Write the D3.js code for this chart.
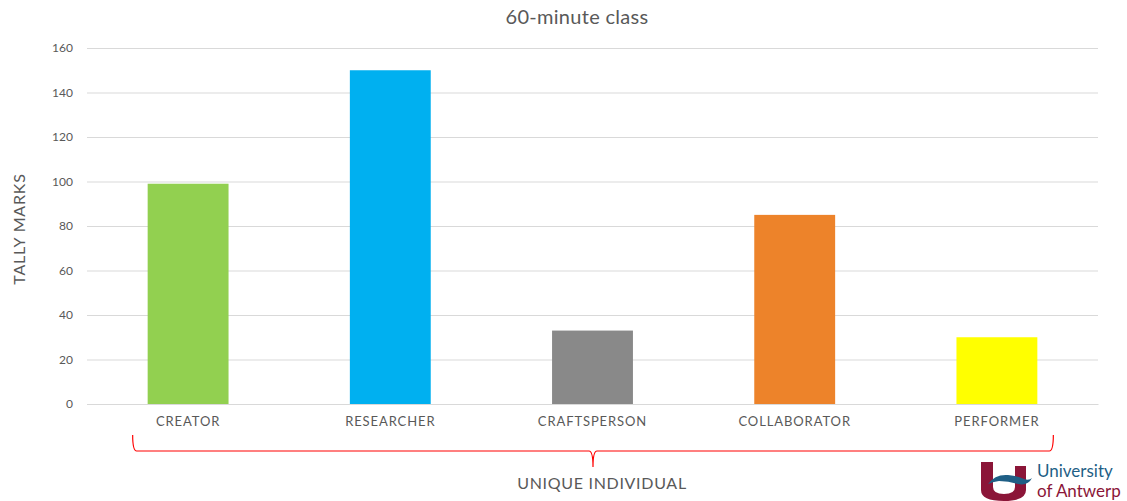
<!DOCTYPE html>
<html>
<head>
<meta charset="utf-8">
<script src="https://cdn.jsdelivr.net/npm/d3@7"></script>
<style>
  body { margin: 0; background: #fff; }
  text { font-family: "Lato", "Open Sans", sans-serif; }
</style>
</head>
<body>
<div class="canvas"></div>
<script>
const categories = ['CREATOR', 'RESEARCHER', 'CRAFTSPERSON', 'COLLABORATOR', 'PERFORMER'];
const tallyValues = [99, 150, 33, 85, 30];
const barColors = ['#92D050', '#00B0F0', '#898989', '#ED832A', '#FFFF00'];
const yTicks = [0, 20, 40, 60, 80, 100, 120, 140, 160];

const width = 1127, height = 501;
const margin = { top: 48, right: 29, bottom: 97, left: 87 };
const graphWidth = width - margin.left - margin.right;
const graphHeight = height - margin.top - margin.bottom;

const svg = d3.select('.canvas')
  .append('svg')
  .attr('width', width)
  .attr('height', height);

const graph = svg.append('g')
  .attr('transform', `translate(${margin.left}, ${margin.top})`);

const xScale = d3.scaleBand()
  .domain(categories)
  .range([0, graphWidth])
  .paddingInner(0.6)
  .paddingOuter(0.3);

const yScale = d3.scaleLinear()
  .domain([0, 160])
  .range([graphHeight, 0]);

// gridlines + y tick labels
const yAxis = graph.append('g')
  .call(d3.axisLeft(yScale).tickValues(yTicks).tickSize(-graphWidth).tickPadding(14));
yAxis.select('.domain').remove();
yAxis.selectAll('.tick line').attr('stroke', '#d9d9d9');
yAxis.selectAll('.tick text')
  .attr('fill', '#595959')
  .style('font-size', '12px');

// bars
graph.selectAll('rect.bar')
  .data(tallyValues)
  .enter()
  .append('rect')
  .attr('class', 'bar')
  .attr('x', (d, i) => xScale(categories[i]))
  .attr('y', d => yScale(d))
  .attr('width', xScale.bandwidth())
  .attr('height', d => graphHeight - yScale(d))
  .attr('fill', (d, i) => barColors[i]);

// x axis
const xAxis = graph.append('g')
  .attr('transform', `translate(0, ${graphHeight})`)
  .call(d3.axisBottom(xScale).tickSize(0).tickPadding(13));
xAxis.select('.domain').attr('stroke', '#d9d9d9');
xAxis.selectAll('.tick text')
  .attr('fill', '#595959')
  .style('font-size', '13px')
  .style('letter-spacing', '0.9px');

// title
svg.append('text')
  .attr('x', 577).attr('y', 24)
  .attr('text-anchor', 'middle')
  .attr('fill', '#595959')
  .style('font-size', '20px')
  .style('letter-spacing', '0.3px')
  .text('60-minute class');

// y label
svg.append('text')
  .attr('transform', 'translate(25, 229) rotate(-90)')
  .attr('text-anchor', 'middle')
  .attr('fill', '#595959')
  .style('font-size', '16px')
  .style('letter-spacing', '0.8px')
  .text('TALLY MARKS');

// brace under the categories
const bx0 = margin.left + xScale(categories[0]) - 15;
const bx1 = margin.left + xScale(categories[4]) + xScale.bandwidth() + 16;
const bmid = (bx0 + bx1) / 2;
const by = 451;
svg.append('path')
  .attr('d', `M${bx0},435 Q${bx0},${by} ${bx0 + 4},${by} L${bmid - 4},${by} Q${bmid},${by} ${bmid},467 Q${bmid},${by} ${bmid + 4},${by} L${bx1 - 4},${by} Q${bx1},${by} ${bx1},435`)
  .attr('fill', 'none')
  .attr('stroke', '#ff0000')
  .attr('stroke-width', 1.2);

svg.append('text')
  .attr('x', 602).attr('y', 489)
  .attr('text-anchor', 'middle')
  .attr('fill', '#595959')
  .style('font-size', '16px')
  .style('letter-spacing', '0.7px')
  .text('UNIQUE INDIVIDUAL');

// logo
const logo = svg.append('g');
logo.append('path')
  .attr('d', 'M981,462 L993,462 L993,487 Q993,494 1004,494 Q1015,494 1015,487 L1015,466 L1026,466 L1026,490 Q1026,501 1004,501 Q981,501 981,490 Z')
  .attr('fill', '#8B1538');
logo.append('path')
  .attr('d', 'M988,484 Q995,474 1008,475 Q1018,476 1024,479 Q1029,481 1032,478 Q1028,486 1018,484 Q1008,481 999,481 Q992,482 988,484 Z')
  .attr('fill', '#1F5F86');
logo.append('text')
  .attr('x', 1037).attr('y', 477)
  .attr('fill', '#1F5F86')
  .style('font-size', '17px')
  .text('University');
logo.append('text')
  .attr('x', 1037).attr('y', 497)
  .attr('fill', '#8B1538')
  .style('font-size', '17px')
  .text('of Antwerp');
</script>
</body>
</html>
